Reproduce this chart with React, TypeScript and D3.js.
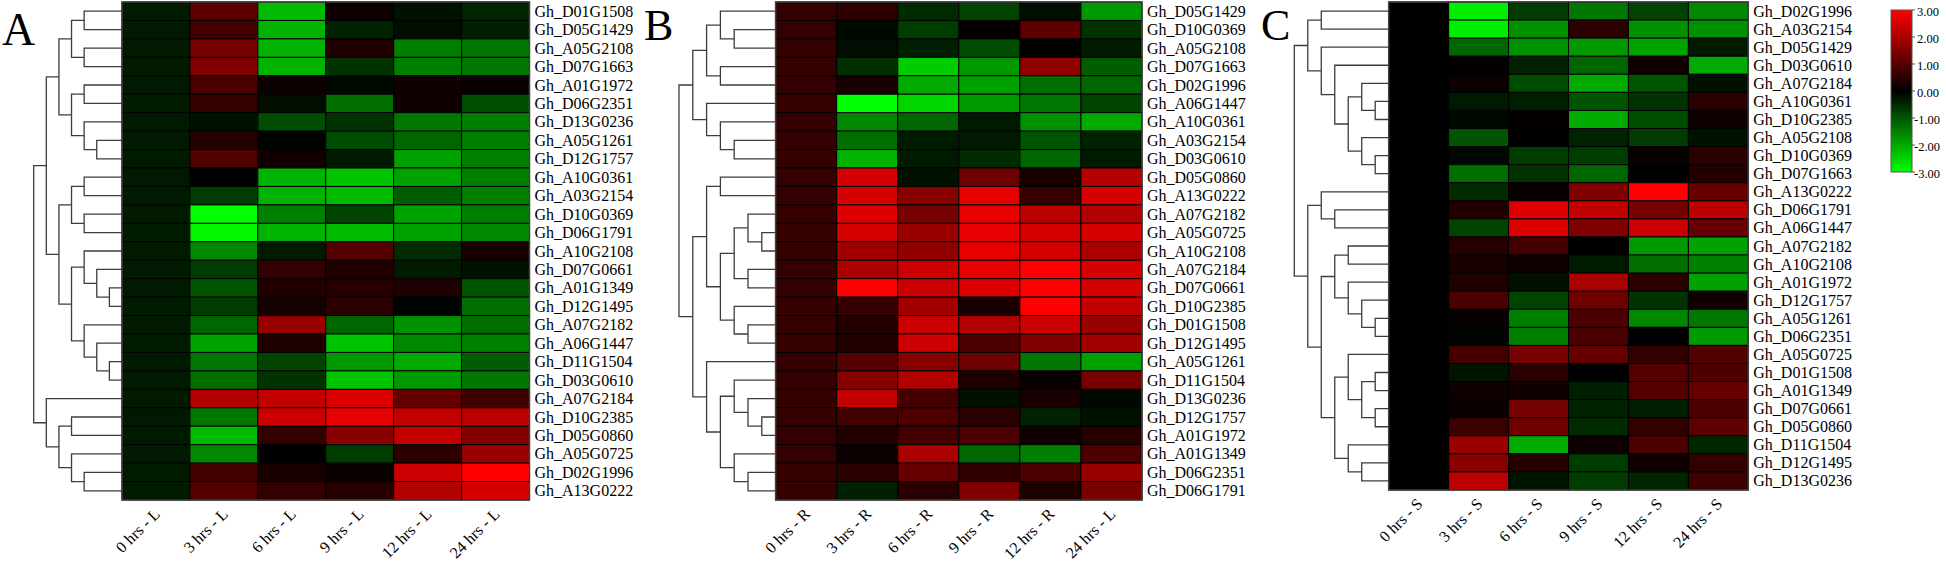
import React from "react";
import * as d3 from "d3";

type Tree = number | [number, Tree, Tree];

// ---------- Panel A ----------
const colsA = ["0 hrs - L", "3 hrs - L", "6 hrs - L", "9 hrs - L", "12 hrs - L", "24 hrs - L"];
const rowsA = [
  "Gh_D01G1508", "Gh_D05G1429", "Gh_A05G2108", "Gh_D07G1663", "Gh_A01G1972", "Gh_D06G2351",
  "Gh_D13G0236", "Gh_A05G1261", "Gh_D12G1757", "Gh_A10G0361", "Gh_A03G2154", "Gh_D10G0369",
  "Gh_D06G1791", "Gh_A10G2108", "Gh_D07G0661", "Gh_A01G1349", "Gh_D12G1495", "Gh_A07G2182",
  "Gh_A06G1447", "Gh_D11G1504", "Gh_D03G0610", "Gh_A07G2184", "Gh_D10G2385", "Gh_D05G0860",
  "Gh_A05G0725", "Gh_D02G1996", "Gh_A13G0222",
];
const valuesA = [
  [-0.3, 1.1, -2.2, 0.15, -0.2, -0.45],
  [-0.3, 0.8, -2.1, -0.4, -0.15, -0.35],
  [-0.3, 1.4, -2.1, 0.4, -1.5, -1.4],
  [-0.3, 1.5, -2.1, -0.6, -1.5, -1.4],
  [-0.3, 0.85, 0.15, -0.1, 0.2, 0.1],
  [-0.3, 0.6, -0.15, -1.3, 0.2, -0.9],
  [-0.3, -0.2, -0.9, -0.6, -1.4, -1.5],
  [-0.3, 0.45, -0.05, -0.9, -1.2, -1.5],
  [-0.3, 0.95, 0.2, -0.3, -1.9, -1.5],
  [-0.3, 0.0, -2.1, -2.3, -1.9, -1.5],
  [-0.3, -0.7, -2.1, -2.2, -1.1, -1.5],
  [-0.3, -3.0, -1.5, -0.8, -1.9, -1.5],
  [-0.3, -2.9, -2.1, -2.2, -1.9, -1.6],
  [-0.3, -1.6, -0.3, 1.0, -0.5, 0.3],
  [-0.3, -0.7, 0.6, 0.4, -0.3, -0.2],
  [-0.3, -1.0, 0.4, 0.45, 0.35, -1.0],
  [-0.3, -0.7, 0.25, 0.5, -0.05, -1.3],
  [-0.3, -1.2, 1.8, -1.2, -1.7, -1.3],
  [-0.3, -1.9, 0.35, -2.3, -1.6, -1.5],
  [-0.3, -1.4, -0.8, -1.8, -2.0, -1.1],
  [-0.3, -1.3, -0.6, -2.3, -1.8, -1.4],
  [-0.3, 2.1, 2.3, 2.6, 1.2, 0.75],
  [-0.3, -1.4, 2.4, 2.7, 2.3, 2.2],
  [-0.3, -2.2, 0.6, 1.6, 2.3, 1.5],
  [-0.3, -1.6, 0.0, -0.7, 0.5, 1.8],
  [-0.3, 0.8, 0.3, 0.1, 2.4, 3.0],
  [-0.3, 1.0, 0.6, 0.45, 2.1, 2.5],
];
const treeA: Tree = [7,
  [6,
    [5, [4, [3, 0, 1], [3, 2, 3]], [4, [3, 4, 5], [3, 6, [2, 7, 8]]]],
    [5, [4, [3, 9, 10], [3, 11, 12]], [4, [3, 13, [2, 14, [1, 15, 16]]], [3, 17, [2, 18, [1, 19, 20]]]]]],
  [6, 21, [5, [4, 22, 23], [4, 24, [3, 25, 26]]]]];

// ---------- Panel B ----------
const colsB = ["0 hrs - R", "3 hrs - R", "6 hrs - R", "9 hrs - R", "12 hrs - R", "24 hrs - L"];
const rowsB = [
  "Gh_D05G1429", "Gh_D10G0369", "Gh_A05G2108", "Gh_D07G1663", "Gh_D02G1996", "Gh_A06G1447",
  "Gh_A10G0361", "Gh_A03G2154", "Gh_D03G0610", "Gh_D05G0860", "Gh_A13G0222", "Gh_A07G2182",
  "Gh_A05G0725", "Gh_A10G2108", "Gh_A07G2184", "Gh_D07G0661", "Gh_D10G2385", "Gh_D01G1508",
  "Gh_D12G1495", "Gh_A05G1261", "Gh_D11G1504", "Gh_D13G0236", "Gh_D12G1757", "Gh_A01G1972",
  "Gh_A01G1349", "Gh_D06G2351", "Gh_D06G1791",
];
const valuesB = [
  [0.62, 0.55, -0.5, -0.8, -0.15, -1.8],
  [0.62, -0.1, -0.7, 0.05, 1.1, -0.6],
  [0.62, -0.15, -0.35, -0.9, 0.0, -0.3],
  [0.62, -0.55, -2.4, -1.8, 1.7, -1.1],
  [0.62, 0.3, -2.0, -1.9, -1.3, -1.2],
  [0.62, -3.0, -2.5, -1.8, -1.4, -0.8],
  [0.62, -1.6, -1.2, -0.3, -1.7, -2.0],
  [0.62, -1.3, -0.3, -0.3, -1.0, -0.4],
  [0.62, -2.1, -0.3, -0.5, -1.2, -0.3],
  [0.62, 2.5, -0.2, 1.3, 0.3, 2.1],
  [0.62, 2.5, 1.6, 2.7, 0.65, 2.5],
  [0.62, 2.6, 1.4, 2.7, 2.2, 2.1],
  [0.62, 2.5, 1.8, 2.7, 2.5, 2.5],
  [0.62, 1.9, 1.7, 2.7, 2.5, 2.0],
  [0.62, 2.0, 2.4, 2.7, 3.0, 2.5],
  [0.62, 3.0, 2.4, 2.6, 3.0, 2.5],
  [0.62, 0.65, 1.9, 0.3, 3.0, 2.3],
  [0.62, 0.4, 2.4, 2.1, 2.4, 1.8],
  [0.62, 0.4, 2.4, 0.9, 1.5, 1.9],
  [0.62, 1.0, 1.6, 1.3, -1.4, -1.9],
  [0.62, 1.6, 2.1, 0.35, 0.1, 1.4],
  [0.62, 2.3, 0.8, -0.2, 0.3, -0.1],
  [0.62, 0.8, 0.9, 0.5, -0.4, -0.2],
  [0.62, 0.4, 0.8, 0.9, 0.2, 0.45],
  [0.62, 0.15, 2.0, -1.2, -1.5, 0.9],
  [0.62, 0.5, 1.2, 0.55, 0.9, 1.8],
  [0.62, -0.35, 0.5, 1.5, 0.35, 1.4],
];
const treeB: Tree = [7,
  [6,
    [5, [4, 0, [3, 1, 2]], [4, 3, 4]],
    [5, 5, [4, 6, [3, 7, 8]]]],
  [6,
    [5, [4, 9, 10], [4, [3, [2, 11, [1, 12, 13]], [2, 14, 15]], [3, 16, [2, 17, 18]]]],
    [5, 19, [4, [3, 20, [2, 21, [1, 22, 23]]], [3, 24, [2, 25, 26]]]]]];

// ---------- Panel C ----------
const colsC = ["0 hrs - S", "3 hrs - S", "6 hrs - S", "9 hrs - S", "12 hrs - S", "24 hrs - S"];
const rowsC = [
  "Gh_D02G1996", "Gh_A03G2154", "Gh_D05G1429", "Gh_D03G0610", "Gh_A07G2184", "Gh_A10G0361",
  "Gh_D10G2385", "Gh_A05G2108", "Gh_D10G0369", "Gh_D07G1663", "Gh_A13G0222", "Gh_D06G1791",
  "Gh_A06G1447", "Gh_A07G2182", "Gh_A10G2108", "Gh_A01G1972", "Gh_D12G1757", "Gh_A05G1261",
  "Gh_D06G2351", "Gh_A05G0725", "Gh_D01G1508", "Gh_A01G1349", "Gh_D07G0661", "Gh_D05G0860",
  "Gh_D11G1504", "Gh_D12G1495", "Gh_D13G0236",
];
const valuesC = [
  [0, -2.8, -0.7, -1.4, -0.8, -1.6],
  [0, -2.8, -1.7, 0.5, -1.7, -1.7],
  [0, -1.2, -1.7, -1.8, -1.9, -0.3],
  [0, 0.05, -0.4, -1.2, 0.2, -2.0],
  [0, 0.15, -0.9, -2.0, -1.0, -0.2],
  [0, -0.3, -0.35, -1.0, -0.6, 0.5],
  [0, -0.1, 0.05, -2.0, -0.9, 0.15],
  [0, -1.0, 0.0, -0.4, -0.7, -0.2],
  [0, -0.1, -0.7, -0.7, 0.1, 0.5],
  [0, -1.3, -0.6, -1.2, 0.0, 0.4],
  [0, -0.5, 0.1, 1.5, 3.0, 1.2],
  [0, 0.4, 2.6, 2.3, 1.4, 2.2],
  [0, -0.8, 2.6, 1.5, 2.4, 1.2],
  [0, 0.45, 0.8, 0.0, -1.8, -1.9],
  [0, 0.3, 0.2, -0.3, -1.3, -1.5],
  [0, 0.35, -0.2, 2.0, 0.5, -1.9],
  [0, 0.9, -0.8, 1.3, -0.6, 0.2],
  [0, 0.1, -1.5, 0.9, -1.6, -1.4],
  [0, -0.05, -1.5, 0.85, 0.0, -1.8],
  [0, 0.8, 1.4, 1.2, 0.6, 0.95],
  [0, -0.25, 0.5, 0.0, 1.0, 0.9],
  [0, 0.15, 0.2, -0.35, 1.0, 1.2],
  [0, 0.1, 1.4, -0.4, -0.35, 0.9],
  [0, 0.7, 1.3, -0.5, 0.6, 1.1],
  [0, 1.8, -2.0, 0.15, 0.9, -0.45],
  [0, 1.6, 0.45, -0.7, 0.2, 0.6],
  [0, 2.2, -0.25, -0.7, -0.45, 0.7],
];
const treeC: Tree = [7,
  [6, [5, 0, 1], [5, 2, [4, 3, [3, [2, 4, [1, 5, 6]], [2, 7, [1, 8, 9]]]]]],
  [6,
    [5, 10, [4, 11, 12]],
    [5,
      [4, [3, 13, 14], [3, 15, [2, 16, [1, 17, 18]]]],
      [4, [3, 19, [2, [1, 20, 21], [1, 22, 23]]], [3, 24, [2, 25, 26]]]]]];

const legendTicks = [3, 2, 1, 0, -1, -2, -3];

// ---------- layout ----------
const W = 1946;
const H = 561;
const FONT = "'Liberation Serif', 'Times New Roman', serif";

const color = d3
  .scaleLinear<string>()
  .domain([-3, 0, 3])
  .range(["#00ff00", "#000000", "#ff0000"])
  .clamp(true);

interface Layout {
  letter: string;
  letterX: number;
  letterY: number;
  letterSize: number;
  rootX: number;
  x0: number;
  x1: number;
  y0: number;
  y1: number;
}

const layoutA: Layout = { letter: "A", letterX: 2, letterY: 45, letterSize: 46, rootX: 33.7, x0: 122, x1: 529.5, y0: 2, y1: 500 };
const layoutB: Layout = { letter: "B", letterX: 644, letterY: 40, letterSize: 44, rootX: 679, x0: 775.6, x1: 1142, y0: 2, y1: 500 };
const layoutC: Layout = { letter: "C", letterX: 1261, letterY: 40, letterSize: 44, rootX: 1294.3, x0: 1388.7, x1: 1748.3, y0: 2, y1: 490 };

function Panel(props: { rows: string[]; cols: string[]; values: number[][]; tree: Tree; layout: Layout }) {
  const { rows, cols, values, tree, layout } = props;
  const x = d3.scaleBand<string>().domain(cols).range([layout.x0, layout.x1]);
  const y = d3.scaleBand<string>().domain(rows).range([layout.y0, layout.y1]);
  const lv = d3.scaleLinear().domain([0, 7]).range([layout.x0, layout.rootX]);

  const p = d3.path();
  const walk = (t: Tree): { x: number; y: number } => {
    if (typeof t === "number") {
      return { x: lv(0), y: (y(rows[t]) as number) + y.bandwidth() / 2 };
    }
    const [h, a, b] = t;
    const A = walk(a);
    const B = walk(b);
    const nx = lv(h);
    p.moveTo(A.x, A.y);
    p.lineTo(nx, A.y);
    p.lineTo(nx, B.y);
    p.lineTo(B.x, B.y);
    return { x: nx, y: (A.y + B.y) / 2 };
  };
  walk(tree);

  return (
    <g>
      <text x={layout.letterX} y={layout.letterY} fontSize={layout.letterSize} fontFamily={FONT} fill="#000">
        {layout.letter}
      </text>
      <path d={p.toString()} fill="none" stroke="#3c3c3c" strokeWidth={1.3} />
      {values.map((row, i) =>
        row.map((v, j) => (
          <rect
            key={`${i}-${j}`}
            x={x(cols[j])}
            y={y(rows[i])}
            width={x.bandwidth()}
            height={y.bandwidth()}
            fill={color(v)}
            stroke="#000"
            strokeWidth={1}
          />
        ))
      )}
      <rect
        x={layout.x0}
        y={layout.y0}
        width={layout.x1 - layout.x0}
        height={layout.y1 - layout.y0}
        fill="none"
        stroke="#404040"
        strokeWidth={1.5}
      />
      {rows.map((r) => (
        <text
          key={r}
          x={layout.x1 + 5}
          y={(y(r) as number) + y.bandwidth() / 2}
          dominantBaseline="central"
          fontSize={16}
          fontFamily={FONT}
          fill="#000"
        >
          {r}
        </text>
      ))}
      {cols.map((c) => {
        const cx = (x(c) as number) + x.bandwidth() / 2;
        return (
          <text
            key={c}
            transform={`translate(${cx + 5},${layout.y1 + 15}) rotate(-45)`}
            textAnchor="end"
            fontSize={16}
            fontFamily={FONT}
            fill="#000"
          >
            {c}
          </text>
        );
      })}
    </g>
  );
}

function Legend() {
  const lx0 = 1891;
  const lx1 = 1912;
  const ly = d3.scaleLinear().domain([3, -3]).range([10, 172]);
  return (
    <g>
      <defs>
        <linearGradient id="lg" x1="0" y1="0" x2="0" y2="1">
          <stop offset="0%" stopColor={color(3)} />
          <stop offset="50%" stopColor={color(0)} />
          <stop offset="100%" stopColor={color(-3)} />
        </linearGradient>
      </defs>
      <rect x={lx0} y={ly(3)} width={lx1 - lx0} height={ly(-3) - ly(3)} fill="url(#lg)" stroke="#555" strokeWidth={1} />
      {legendTicks.map((t) => (
        <g key={t}>
          <line x1={lx1} x2={lx1 + 3} y1={ly(t)} y2={ly(t)} stroke="#555" strokeWidth={1} />
          <text
            x={t < 0 ? lx1 + 2 : lx1 + 5}
            y={ly(t) + 2}
            dominantBaseline="central"
            fontSize={12.5}
            fontFamily={FONT}
            fill="#000"
          >
            {t.toFixed(2)}
          </text>
        </g>
      ))}
    </g>
  );
}

export default function App() {
  return (
    <div style={{ position: "absolute", left: 0, top: 0, width: W, height: H, background: "#fff" }}>
      <svg width={W} height={H} viewBox={`0 0 ${W} ${H}`} style={{ display: "block" }}>
        <rect x={0} y={0} width={W} height={H} fill="#fff" />
        <Panel rows={rowsA} cols={colsA} values={valuesA} tree={treeA} layout={layoutA} />
        <Panel rows={rowsB} cols={colsB} values={valuesB} tree={treeB} layout={layoutB} />
        <Panel rows={rowsC} cols={colsC} values={valuesC} tree={treeC} layout={layoutC} />
        <Legend />
      </svg>
    </div>
  );
}
